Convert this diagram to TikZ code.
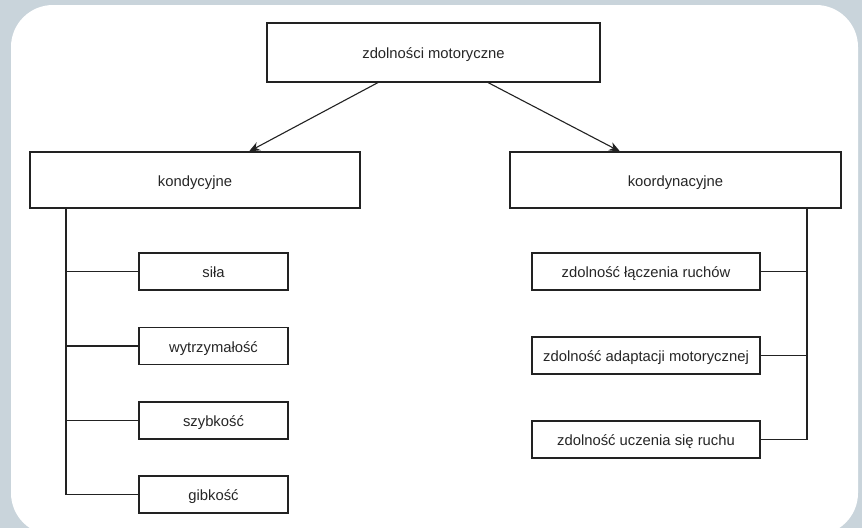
\documentclass[tikz,border=0pt]{standalone}
\usepackage{fontspec}
\setmainfont{Liberation Sans}
\usetikzlibrary{arrows.meta}
\definecolor{bgc}{HTML}{C9D4DB}
\definecolor{linec}{HTML}{222222}
\begin{document}
\begin{tikzpicture}[x=1pt,y=-1pt,
  box/.style={draw=linec,line width=1.1pt,fill=white,inner sep=0pt,
    font=\fontsize{14.8}{17}\selectfont,text=black!85,text height=12pt,text depth=0pt},
  conn/.style={draw=linec,line width=1.1pt},
  arr/.style={conn,-{Stealth[length=11pt,width=9pt]}}]
\useasboundingbox (0,0) rectangle (862,528);
\fill[bgc] (0,0) rectangle (862,528);
\fill[white,rounded corners=42pt] (11,5) rectangle (858,535);
\node[box,minimum width=333pt,minimum height=59pt] (top) at (433.5,52.5) {zdolności motoryczne};
\node[box,minimum width=330pt,minimum height=56pt] (kon) at (195,180) {kondycyjne};
\node[box,minimum width=331pt,minimum height=56pt] (koo) at (675.5,180) {koordynacyjne};
\node[box,minimum width=149pt,minimum height=37pt] (l1) at (213.5,271.5) {siła};
\node[box,minimum width=149pt,minimum height=37pt] (l2) at (213.5,346) {wytrzymałość};
\node[box,minimum width=149pt,minimum height=37pt] (l3) at (213.5,420.5) {szybkość};
\node[box,minimum width=149pt,minimum height=37pt] (l4) at (213.5,494.5) {gibkość};
\node[box,minimum width=228pt,minimum height=37pt] (r1) at (646,271.5) {zdolność łączenia ruchów};
\node[box,minimum width=228pt,minimum height=37pt] (r2) at (646,355.5) {zdolność adaptacji motorycznej};
\node[box,minimum width=228pt,minimum height=37pt] (r3) at (646,439.5) {zdolność uczenia się ruchu};
\draw[arr] (top.south -| 378,0) -- (kon.north -| 249,0);
\draw[arr] (top.south -| 488,0) -- (koo.north -| 620,0);
\coordinate (lt) at (kon.south -| 66,0);
\coordinate (rt) at (koo.south -| 807,0);
\draw[conn] (lt) |- (l4.west);
\draw[conn] (l1.west) -- (l1.west -| lt);
\draw[conn] (l2.west) -- (l2.west -| lt);
\draw[conn] (l3.west) -- (l3.west -| lt);
\draw[conn] (rt) |- (r3.east);
\draw[conn] (r1.east) -- (r1.east -| rt);
\draw[conn] (r2.east) -- (r2.east -| rt);
\end{tikzpicture}
\end{document}
